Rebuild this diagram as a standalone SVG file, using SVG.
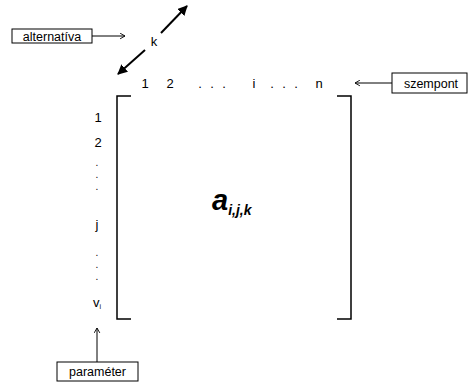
<svg xmlns="http://www.w3.org/2000/svg" width="468" height="383" viewBox="0 0 468 383">
<defs>
<style>
.t{font-family:"Liberation Sans",Arial,sans-serif;fill:#000}
.lbl{font-size:12.5px}
.num{font-size:13px}
.dot{font-size:10px}
.box{fill:#fff;stroke:#000;stroke-width:1}
.ln{stroke:#000;stroke-width:1;fill:none}
.br{stroke:#000;stroke-width:1.5;fill:none}
.dbl{stroke:#000;stroke-width:2;fill:none}
</style>
<marker id="open" viewBox="0 0 10 10" refX="9" refY="5" markerWidth="7" markerHeight="7" orient="auto" markerUnits="userSpaceOnUse">
<path d="M2,1 L9,5 L2,9" fill="none" stroke="#000" stroke-width="1.3"/>
</marker>
<marker id="solid" viewBox="0 0 10 10" refX="9" refY="5" markerWidth="10" markerHeight="10" orient="auto" markerUnits="userSpaceOnUse">
<path d="M0,0 L10,5 L0,10 z" fill="#000"/>
</marker>
</defs>
<rect width="468" height="383" fill="#fff"/>
<g id="connectors">
<line class="ln" x1="92" y1="36" x2="125" y2="36" marker-end="url(#open)"/>
<line class="ln" x1="392" y1="83" x2="355" y2="83" marker-end="url(#open)"/>
<line class="ln" x1="97" y1="362" x2="97" y2="328" marker-end="url(#open)"/>
<line class="dbl" x1="161" y1="33" x2="187" y2="6" marker-end="url(#solid)"/>
<line class="dbl" x1="145" y1="50" x2="118" y2="74" marker-end="url(#solid)"/>
</g>
<g id="alternativa">
<rect class="box" x="12" y="29" width="80" height="14"/>
<text class="t lbl" x="52" y="41" text-anchor="middle">alternatíva</text>
</g>
<g id="szempont">
<rect class="box" x="392" y="73" width="75" height="20"/>
<text class="t lbl" x="431" y="87.5" text-anchor="middle">szempont</text>
</g>
<g id="parameter">
<rect class="box" x="57" y="362" width="81" height="19"/>
<text class="t lbl" x="97.5" y="376" text-anchor="middle">paraméter</text>
</g>
<g id="k">
<text class="t num" x="154" y="46" text-anchor="middle" font-size="14">k</text>
</g>
<g id="matrix">
<path class="br" d="M131,96 H117 V319 H131"/>
<path class="br" d="M337,96 H351 V319 H337"/>
<text class="t num" y="88" text-anchor="middle"><tspan x="145">1</tspan><tspan x="170">2</tspan><tspan x="200">.</tspan><tspan x="212">.</tspan><tspan x="224">.</tspan><tspan x="254">i</tspan><tspan x="272">.</tspan><tspan x="284">.</tspan><tspan x="296">.</tspan><tspan x="319">n</tspan></text>
<text class="t num" x="98" y="122" text-anchor="middle">1</text>
<text class="t num" x="98" y="147" text-anchor="middle">2</text>
<text class="t dot" x="97" y="166" text-anchor="middle">.</text>
<text class="t dot" x="97" y="178" text-anchor="middle">.</text>
<text class="t dot" x="97" y="190" text-anchor="middle">.</text>
<text class="t num" x="97" y="229" text-anchor="middle">j</text>
<text class="t dot" x="97" y="256" text-anchor="middle">.</text>
<text class="t dot" x="97" y="268" text-anchor="middle">.</text>
<text class="t dot" x="97" y="280" text-anchor="middle">.</text>
<text class="t num" x="93" y="307">v<tspan font-size="7" dy="2">i</tspan></text>
<text class="t" x="212" y="210" font-size="29" font-weight="bold" font-style="italic">a<tspan font-size="14" dy="5">i,j,k</tspan></text>
</g>
</svg>
